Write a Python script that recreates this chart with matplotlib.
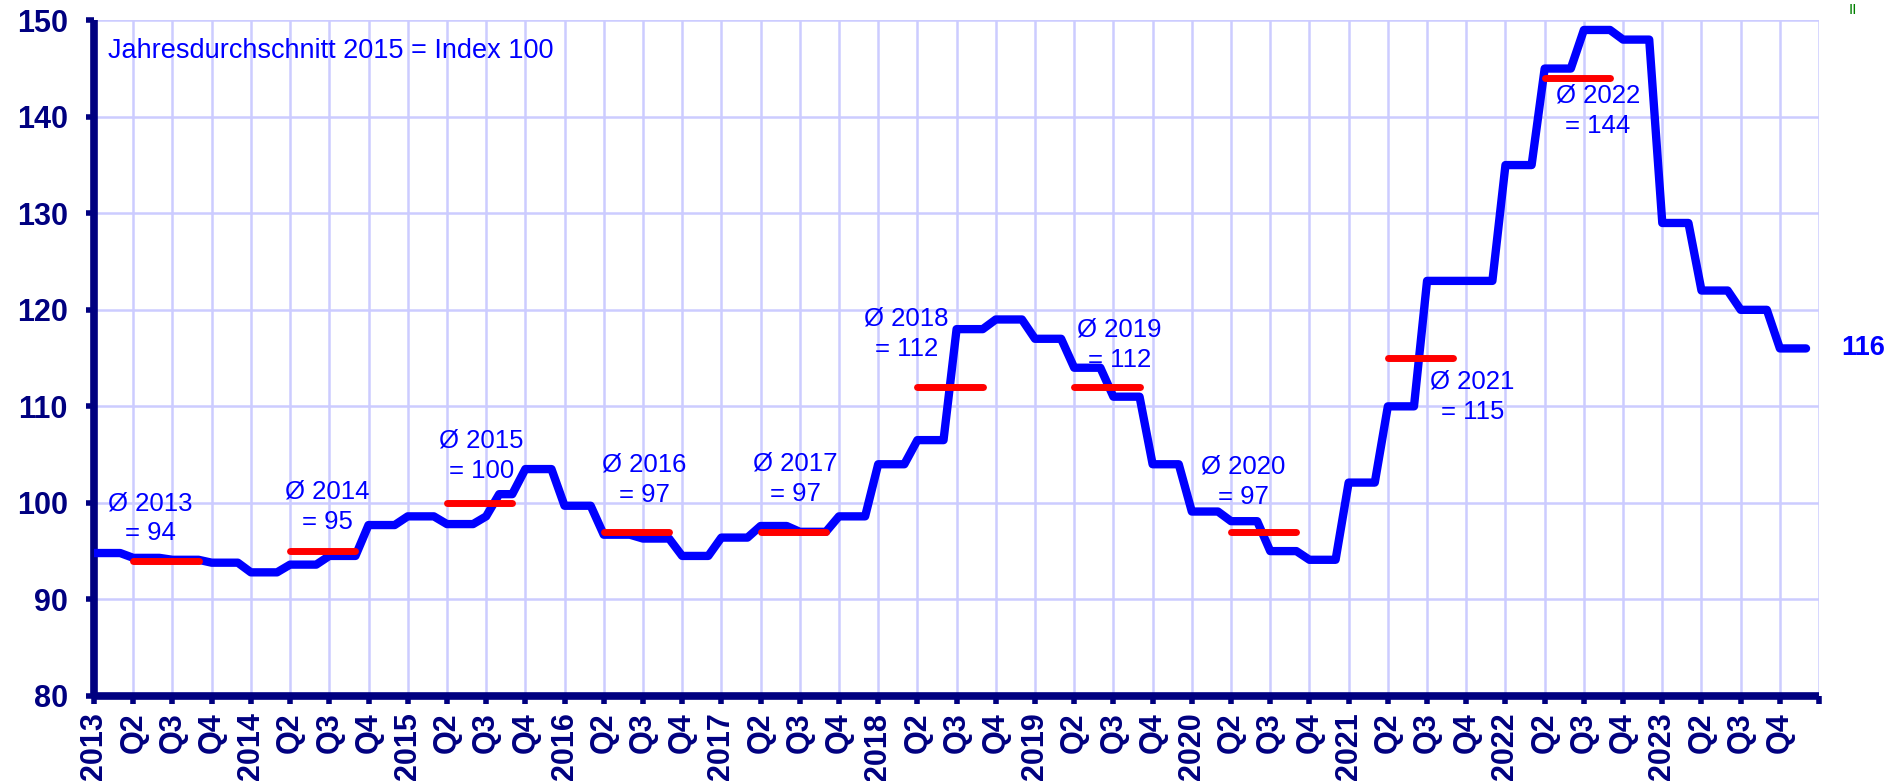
import matplotlib

matplotlib.use("Agg")
import matplotlib.pyplot as plt
import numpy as np

plt.rcParams["font.family"] = ["Liberation Sans", "DejaVu Sans"]

NAVY = "#000080"
BLUE = "#0000ff"
RED = "#ff0000"
GRID = "#ccccff"

# monthly index values (Jahresdurchschnitt 2015 = 100), Jan 2013 .. Dec 2023
idx_2013 = [94.8, 94.8, 94.8, 94.3, 94.3, 94.3, 94.1, 94.1, 94.1, 93.8, 93.8, 93.8]
idx_2014 = [92.8, 92.8, 92.8, 93.6, 93.6, 93.6, 94.5, 94.5, 94.5, 97.7, 97.7, 97.7]
idx_2015 = [98.6, 98.6, 98.6, 97.8, 97.8, 97.8, 98.6, 100.9, 100.9, 103.5, 103.5, 103.5]
idx_2016 = [99.7, 99.7, 99.7, 96.7, 96.7, 96.7, 96.3, 96.3, 96.3, 94.5, 94.5, 94.5]
idx_2017 = [96.4, 96.4, 96.4, 97.6, 97.6, 97.6, 97.0, 97.0, 97.0, 98.6, 98.6, 98.6]
idx_2018 = [104.0, 104.0, 104.0, 106.5, 106.5, 106.5, 118.0, 118.0, 118.0, 119.0, 119.0, 119.0]
idx_2019 = [117.0, 117.0, 117.0, 114.0, 114.0, 114.0, 111.0, 111.0, 111.0, 104.0, 104.0, 104.0]
idx_2020 = [99.1, 99.1, 99.1, 98.1, 98.1, 98.1, 95.0, 95.0, 95.0, 94.1, 94.1, 94.1]
idx_2021 = [102.1, 102.1, 102.1, 110.0, 110.0, 110.0, 123.0, 123.0, 123.0, 123.0, 123.0, 123.0]
idx_2022 = [135.0, 135.0, 135.0, 145.0, 145.0, 145.0, 149.0, 149.0, 149.0, 148.0, 148.0, 148.0]
idx_2023 = [129.0, 129.0, 129.0, 122.0, 122.0, 122.0, 120.0, 120.0, 120.0, 116.0, 116.0, 116.0]

years = list(range(2013, 2024))
monthly = idx_2013 + idx_2014 + idx_2015 + idx_2016 + idx_2017 + idx_2018 + idx_2019 + idx_2020 + idx_2021 + idx_2022 + idx_2023

# annual averages (red bars) for 2013..2022
avg_years = [2013, 2014, 2015, 2016, 2017, 2018, 2019, 2020, 2021, 2022]
avg_values = [94, 95, 100, 97, 97, 112, 112, 97, 115, 144]

# where the "Ø year = value" labels sit (x, y in data units)
label_pos = [
    (2013.36, 98.4), (2014.49, 99.6), (2015.47, 104.9), (2016.51, 102.4), (2017.47, 102.5),
    (2018.18, 117.5), (2019.54, 116.4), (2020.33, 102.2), (2021.79, 111.0), (2022.59, 140.6),
]

fig = plt.figure(figsize=(18.89, 7.81), dpi=100)
ax = fig.add_axes([0.0498, 0.109, 0.9132, 0.865])

x = years[0] + np.arange(len(monthly)) / 12
ax.plot(x, monthly, color=BLUE, lw=6, solid_capstyle="round", zorder=3)

for yr, v in zip(avg_years, avg_values):
    ax.plot([yr + 3 / 12, yr + 8 / 12], [v, v], color=RED, lw=5, solid_capstyle="round", zorder=4)

for (lx, ly), yr, v in zip(label_pos, avg_years, avg_values):
    ax.text(lx, ly, f"Ø {yr}\n= {v}", color=BLUE, fontsize=18.5, ha="center", va="center",
            linespacing=1.32, zorder=5)

ax.text(2024.14, monthly[-1], f"{monthly[-1]:.0f}", color=BLUE, fontsize=19.5, fontweight="bold",
        ha="left", va="center", clip_on=False)
ax.text(0.008, 0.955, "Jahresdurchschnitt 2015 = Index 100", transform=ax.transAxes,
        color=BLUE, fontsize=19.5, ha="left", va="center")
fig.text(0.981, 0.996, "II", color="#008000", fontsize=11, ha="center", va="top")

ax.set_xlim(2013, 2024)
ax.set_ylim(80, 150)

qticks = [y + q / 4 for y in years for q in range(4)] + [2024]
qlabels = [str(y) if q == 0 else f"Q{q + 1}" for y in years for q in range(4)] + [""]
ax.set_xticks(qticks)
ax.set_xticklabels(qlabels, rotation=90, fontsize=22, fontweight="bold", color=NAVY)
ax.set_yticks(range(80, 151, 10))
ax.set_yticklabels([str(v) for v in range(80, 151, 10)], fontsize=22, fontweight="bold", color=NAVY)

ax.tick_params(axis="both", direction="out", length=6, width=4, color=NAVY)
ax.tick_params(axis="y", pad=13)
ax.tick_params(axis="x", pad=6)

ax.grid(True, color=GRID, lw=1.8, zorder=0)
ax.set_axisbelow(True)
for side in ["top", "right"]:
    ax.spines[side].set_visible(False)
for side in ["left", "bottom"]:
    ax.spines[side].set_color(NAVY)
    ax.spines[side].set_linewidth(5.5)
    ax.spines[side].set_capstyle("butt")

fig.savefig("out.png", dpi=100, facecolor="white")
